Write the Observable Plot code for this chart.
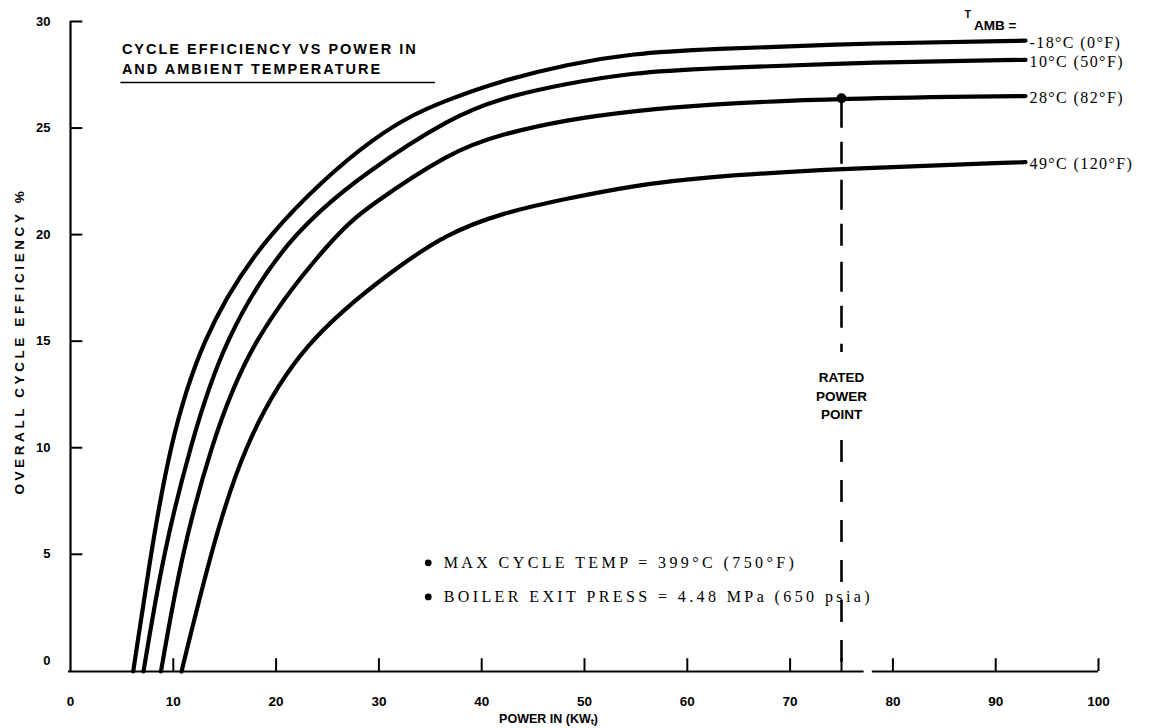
<!DOCTYPE html>
<html>
<head>
<meta charset="utf-8">
<script src="https://cdn.jsdelivr.net/npm/d3@7"></script>
<script src="https://cdn.jsdelivr.net/npm/@observablehq/plot@0.6"></script>
<style>
  html, body { margin: 0; padding: 0; background: #fff; }
  #chart svg { display: block; background: #fff; }
</style>
</head>
<body>
<div id="chart"></div>
<script>
// ---- data ----
const xTickLabels = [0, 10, 20, 30, 40, 50, 60, 70, 80, 90, 100];
const xTickMarks = [10, 20, 30, 40, 50, 60, 70, 75, 80, 90, 100];
const yTickLabels = [0, 5, 10, 15, 20, 25, 30];
const yTickMarks = [5, 10, 15, 20, 25, 30];

const seriesNames = ["-18°C (0°F)", "10°C (50°F)", "28°C (82°F)", "49°C (120°F)"];

const powerM18 = [6.1, 7.8, 9.6, 12.6, 18.7, 30.1, 37.0, 41.8, 48.3, 54.8, 61.3, 78.8, 92.9];
const effM18   = [-0.5, 5, 10, 15, 20, 25, 26.4, 27.2, 28.0, 28.5, 28.7, 29.0, 29.1];

const power10 = [7.1, 9.0, 11.6, 14.8, 21.2, 28.9, 37.0, 41.8, 48.3, 54.8, 61.3, 78.8, 92.9];
const eff10   = [-0.5, 5, 10, 15, 20, 23.0, 25.5, 26.4, 27.1, 27.6, 27.8, 28.1, 28.2];

const power28 = [8.8, 10.8, 13.6, 17.4, 25.7, 28.9, 37.0, 41.8, 48.3, 54.8, 61.3, 75, 92.9];
const eff28   = [-0.5, 5, 10, 15, 20, 21.3, 23.9, 24.7, 25.4, 25.8, 26.1, 26.4, 26.5];

const power49 = [10.8, 13.6, 16.7, 22.5, 32.1, 36.5, 41.8, 48.3, 54.8, 61.3, 75, 92.9];
const eff49   = [-0.5, 5, 10, 15, 18.6, 20.0, 21.0, 21.7, 22.3, 22.7, 23.1, 23.4];

const ratedPower = 75;
const ratedEff = 26.4;

const titleText = "CYCLE EFFICIENCY VS POWER IN\nAND AMBIENT TEMPERATURE";
const notes = ["MAX CYCLE TEMP = 399°C (750°F)", "BOILER EXIT PRESS = 4.48 MPa (650 psia)"];
const noteY = [4.6, 3.0];
const ratedLabel = "RATED\nPOWER\nPOINT";
const xTitle = "POWER IN (KWₜ)";
const yTitle = "OVERALL CYCLE EFFICIENCY %";

// ---- build tables ----
const seriesArrays = [[powerM18, effM18], [power10, eff10], [power28, eff28], [power49, eff49]];
const lines = seriesArrays.flatMap(([xs, ys], i) => xs.map((x, j) => ({series: seriesNames[i], power: x, eff: ys[j]})));
const ends = seriesArrays.map(([xs, ys], i) => ({series: seriesNames[i], power: xs[xs.length - 1], eff: ys[ys.length - 1]}));
const yBase = -0.5;

const sans = "'Liberation Sans', Arial, Helvetica, sans-serif";
const narrow = "'Liberation Sans Narrow', 'Liberation Sans', Arial, sans-serif";
const serif = "'Liberation Serif', 'Times New Roman', serif";

const plot = Plot.plot({
  width: 1176,
  height: 728,
  marginLeft: 70,
  marginRight: 78,
  marginTop: 21,
  marginBottom: 57,
  style: {background: "#fff", color: "#000"},
  x: {domain: [0, 100], axis: null},
  y: {domain: [yBase, 30], axis: null},
  marks: [
    // axes
    Plot.ruleX([0], {y1: yBase, y2: 30, stroke: "#000", strokeWidth: 2.2}),
    Plot.ruleY([yBase], {x1: -0.2, x2: 77.2, stroke: "#000", strokeWidth: 2.2}),
    Plot.ruleY([yBase], {x1: 78.0, x2: 100, stroke: "#000", strokeWidth: 2.2}),
    Plot.ruleX(xTickMarks, {y1: yBase, y2: yBase + 0.6, stroke: "#000", strokeWidth: 2}),
    Plot.ruleY(yTickMarks, {x1: 0, x2: 1.2, stroke: "#000", strokeWidth: 2}),
    Plot.text(xTickLabels, {x: d => d, y: yBase, dy: 30, text: d => String(d), fontFamily: narrow, fontWeight: "bold", fontSize: 13.5, fill: "#000"}),
    Plot.text(yTickLabels, {x: 0, y: d => d, dx: -20, textAnchor: "end", text: d => String(d), fontFamily: sans, fontWeight: "bold", fontSize: 13, fill: "#000"}),
    Plot.text([xTitle], {x: 46.5, y: yBase, dy: 47, fontFamily: narrow, fontWeight: "bold", fontSize: 12.5, fill: "#000"}),
    Plot.text([yTitle], {x: 0, y: 15, dx: -51, rotate: -90, fontFamily: sans, fontWeight: "bold", fontSize: 13.5, fill: "#000"}),

    // curves
    Plot.line(lines, {x: "power", y: "eff", z: "series", curve: "basis", stroke: "#000", strokeWidth: 4.2}),
    Plot.text(ends, {x: "power", y: "eff", text: "series", dx: 4, dy: 2, textAnchor: "start", fontFamily: serif, fontSize: 16, fill: "#000"}),

    // rated power point
    Plot.ruleX([ratedPower], {y1: ratedEff, y2: 14.47, stroke: "#000", strokeWidth: 2.6, strokeDasharray: "30,14,22,16"}),
    Plot.ruleX([ratedPower], {y1: 10.34, y2: yBase, stroke: "#000", strokeWidth: 2.6, strokeDasharray: "22,18"}),
    Plot.dot([ratedPower], {x: d => d, y: ratedEff, r: 5, fill: "#000"}),
    Plot.text([ratedLabel], {x: ratedPower, y: 12.5, fontFamily: sans, fontWeight: "bold", fontSize: 13.5, lineHeight: 1.4, fill: "#000"}),

    // title
    Plot.text([titleText], {x: 5.0, y: 28.3, textAnchor: "start", fontFamily: sans, fontWeight: "bold", fontSize: 14.5, lineHeight: 1.4, fill: "#000"}),
    Plot.ruleY([27.14], {x1: 4.9, x2: 35.5, stroke: "#000", strokeWidth: 1.6}),

    // T_AMB legend header
    Plot.text(["T"], {x: 87.0, y: 30.3, textAnchor: "start", fontFamily: sans, fontWeight: "bold", fontSize: 10, fill: "#000"}),
    Plot.text(["AMB ="], {x: 87.9, y: 29.8, textAnchor: "start", fontFamily: sans, fontWeight: "bold", fontSize: 13.5, fill: "#000"}),

    // notes
    Plot.dot(notes, {x: 34.8, y: (d, i) => noteY[i], r: 3.4, fill: "#000"}),
    Plot.text(notes, {x: 36.3, y: (d, i) => noteY[i], textAnchor: "start", fontFamily: serif, fontSize: 16, fill: "#000"})
  ]
});

// letter spacing tweaks for text that is spaced out in the scan
const spacing = [
  [yTitle, "3.6px"],
  ["CYCLE EFFICIENCY", "2.0px"],
  [notes[0], "3.4px"],
  [notes[1], "3.4px"],
  ...seriesNames.map(n => [n, "1.4px"])
];
plot.querySelectorAll("text").forEach(t => {
  const s = t.textContent;
  for (const [k, v] of spacing) if (s.startsWith(k)) t.style.letterSpacing = v;
});
document.getElementById("chart").append(plot);
</script>
</body>
</html>
